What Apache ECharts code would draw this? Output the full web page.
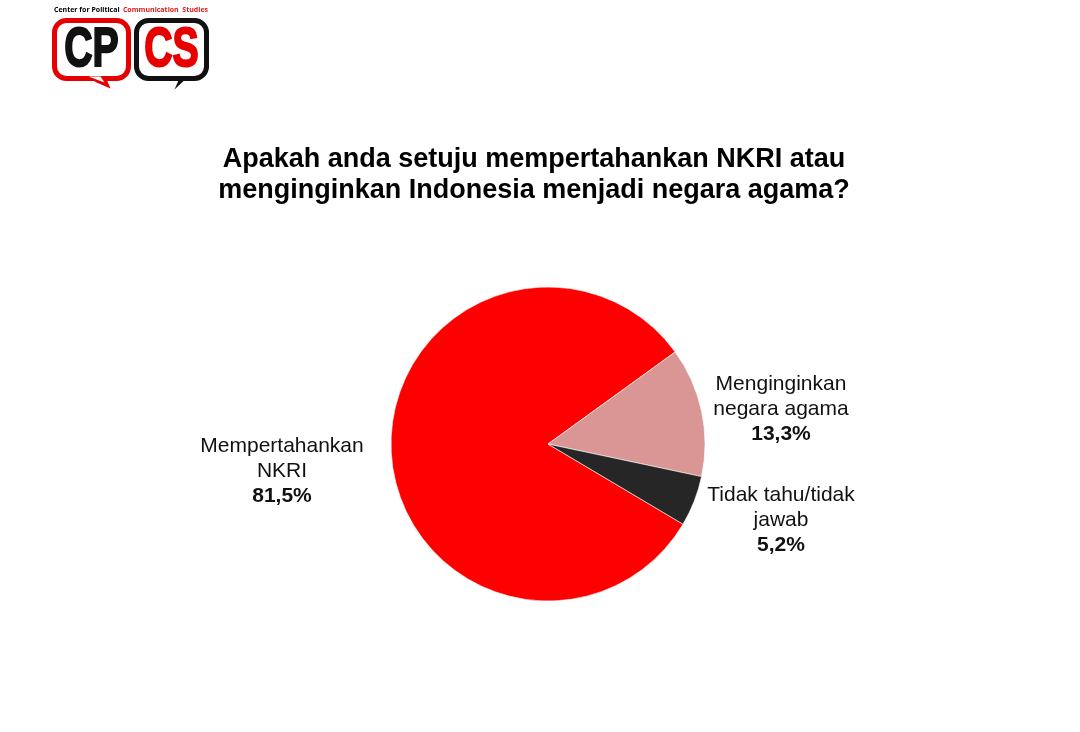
<!DOCTYPE html>
<html>
<head>
<meta charset="utf-8">
<script src="https://cdn.jsdelivr.net/npm/echarts@6/dist/echarts.min.js"></script>
<style>
  html, body { margin: 0; padding: 0; background: #ffffff; }
  #chart { width: 1080px; height: 732px; }
</style>
</head>
<body>
<div id="chart"></div>
<script>
// Survey answers and their shares (percent)
const categories = ['Mempertahankan\nNKRI', 'Menginginkan\nnegara agama', 'Tidak tahu/tidak\njawab'];
const shares = [81.5, 13.3, 5.2];
const sliceColors = ['#ff0000', '#d99694', '#262626'];
const titleText = 'Apakah anda setuju mempertahankan NKRI atau\nmenginginkan Indonesia menjadi negara agama?';

// Where each slice's caption sits (centre of the text block)
const labelSpots = [[282, 471], [781, 409], [781, 520]];

const fmt = v => v.toFixed(1).replace('.', ',') + '%';

const chart = echarts.init(document.getElementById('chart'), null, { renderer: 'canvas' });

chart.setOption({
  backgroundColor: '#ffffff',
  animation: false,
  title: {
    text: titleText,
    left: 529,
    top: 139,
    textAlign: 'center',
    textStyle: {
      fontFamily: 'Liberation Sans, Arial, sans-serif',
      fontWeight: 'bold',
      fontSize: 27,
      lineHeight: 31,
      color: '#000000'
    }
  },
  graphic: [
    // Organisation logo: caption line plus two speech bubbles
    {
      type: 'text', left: 54, top: 4,
      style: {
        rich: {
          b: { fill: '#000', fontSize: 7, fontWeight: 'bold', fontFamily: 'Open Sans, sans-serif' },
          r: { fill: '#e21a1a', fontSize: 7, fontWeight: 'bold', fontFamily: 'Open Sans, sans-serif' }
        },
        text: '{b|Center for Political} {r|Communication  Studies}'
      }
    },
    {
      type: 'group', left: 52, top: 18,
      children: [
        { type: 'polygon', shape: { points: [[30, 56], [52, 56], [58, 70], [44, 64]] }, style: { fill: '#e60000' } },
        { type: 'rect', shape: { x: 2, y: 2, width: 74, height: 58, r: 12 }, style: { fill: '#fff', stroke: '#e60000', lineWidth: 5 } },
        { type: 'polygon', shape: { points: [[36, 58], [48, 58], [52, 64]] }, style: { fill: '#fff' } },
        { type: 'text', x: 39, y: 32, scaleX: 0.98, scaleY: 1.4,
          style: { text: 'CP', fill: '#111', fontSize: 40, fontWeight: 'bold', fontFamily: 'Liberation Sans, Arial, sans-serif', align: 'center', verticalAlign: 'middle', stroke: '#111', lineWidth: 1.5 } }
      ]
    },
    {
      type: 'group', left: 134, top: 18,
      children: [
        { type: 'polygon', shape: { points: [[34, 56], [56, 56], [40, 71], [44, 62]] }, style: { fill: '#111' } },
        { type: 'rect', shape: { x: 2, y: 2, width: 70, height: 58, r: 12 }, style: { fill: '#fff', stroke: '#111', lineWidth: 5 } },
        { type: 'text', x: 37, y: 32, scaleX: 0.98, scaleY: 1.4,
          style: { text: 'CS', fill: '#e60000', fontSize: 40, fontWeight: 'bold', fontFamily: 'Liberation Sans, Arial, sans-serif', align: 'center', verticalAlign: 'middle', stroke: '#e60000', lineWidth: 1.5 } }
      ]
    }
  ],
  series: [{
    type: 'pie',
    center: [548, 444],
    radius: 157,
    startAngle: 329.3,
    clockwise: true,
    silent: true,
    itemStyle: { borderColor: '#ffffff', borderWidth: 0.6 },
    label: {
      show: true,
      position: 'outside',
      formatter: p => p.name + '\n{v|' + fmt(p.value) + '}',
      fontFamily: 'Liberation Sans, Arial, sans-serif',
      fontSize: 21,
      lineHeight: 25,
      color: '#111111',
      align: 'center',
      rich: {
        v: { fontFamily: 'Liberation Sans, Arial, sans-serif', fontSize: 21, fontWeight: 'bold', lineHeight: 25, color: '#111111', align: 'center' }
      }
    },
    labelLine: { show: false },
    labelLayout: params => ({
      x: labelSpots[params.dataIndex][0],
      y: labelSpots[params.dataIndex][1],
      align: 'center',
      verticalAlign: 'middle'
    }),
    data: categories.map((name, i) => ({
      name: name,
      value: shares[i],
      itemStyle: { color: sliceColors[i] }
    }))
  }]
});
</script>
</body>
</html>
